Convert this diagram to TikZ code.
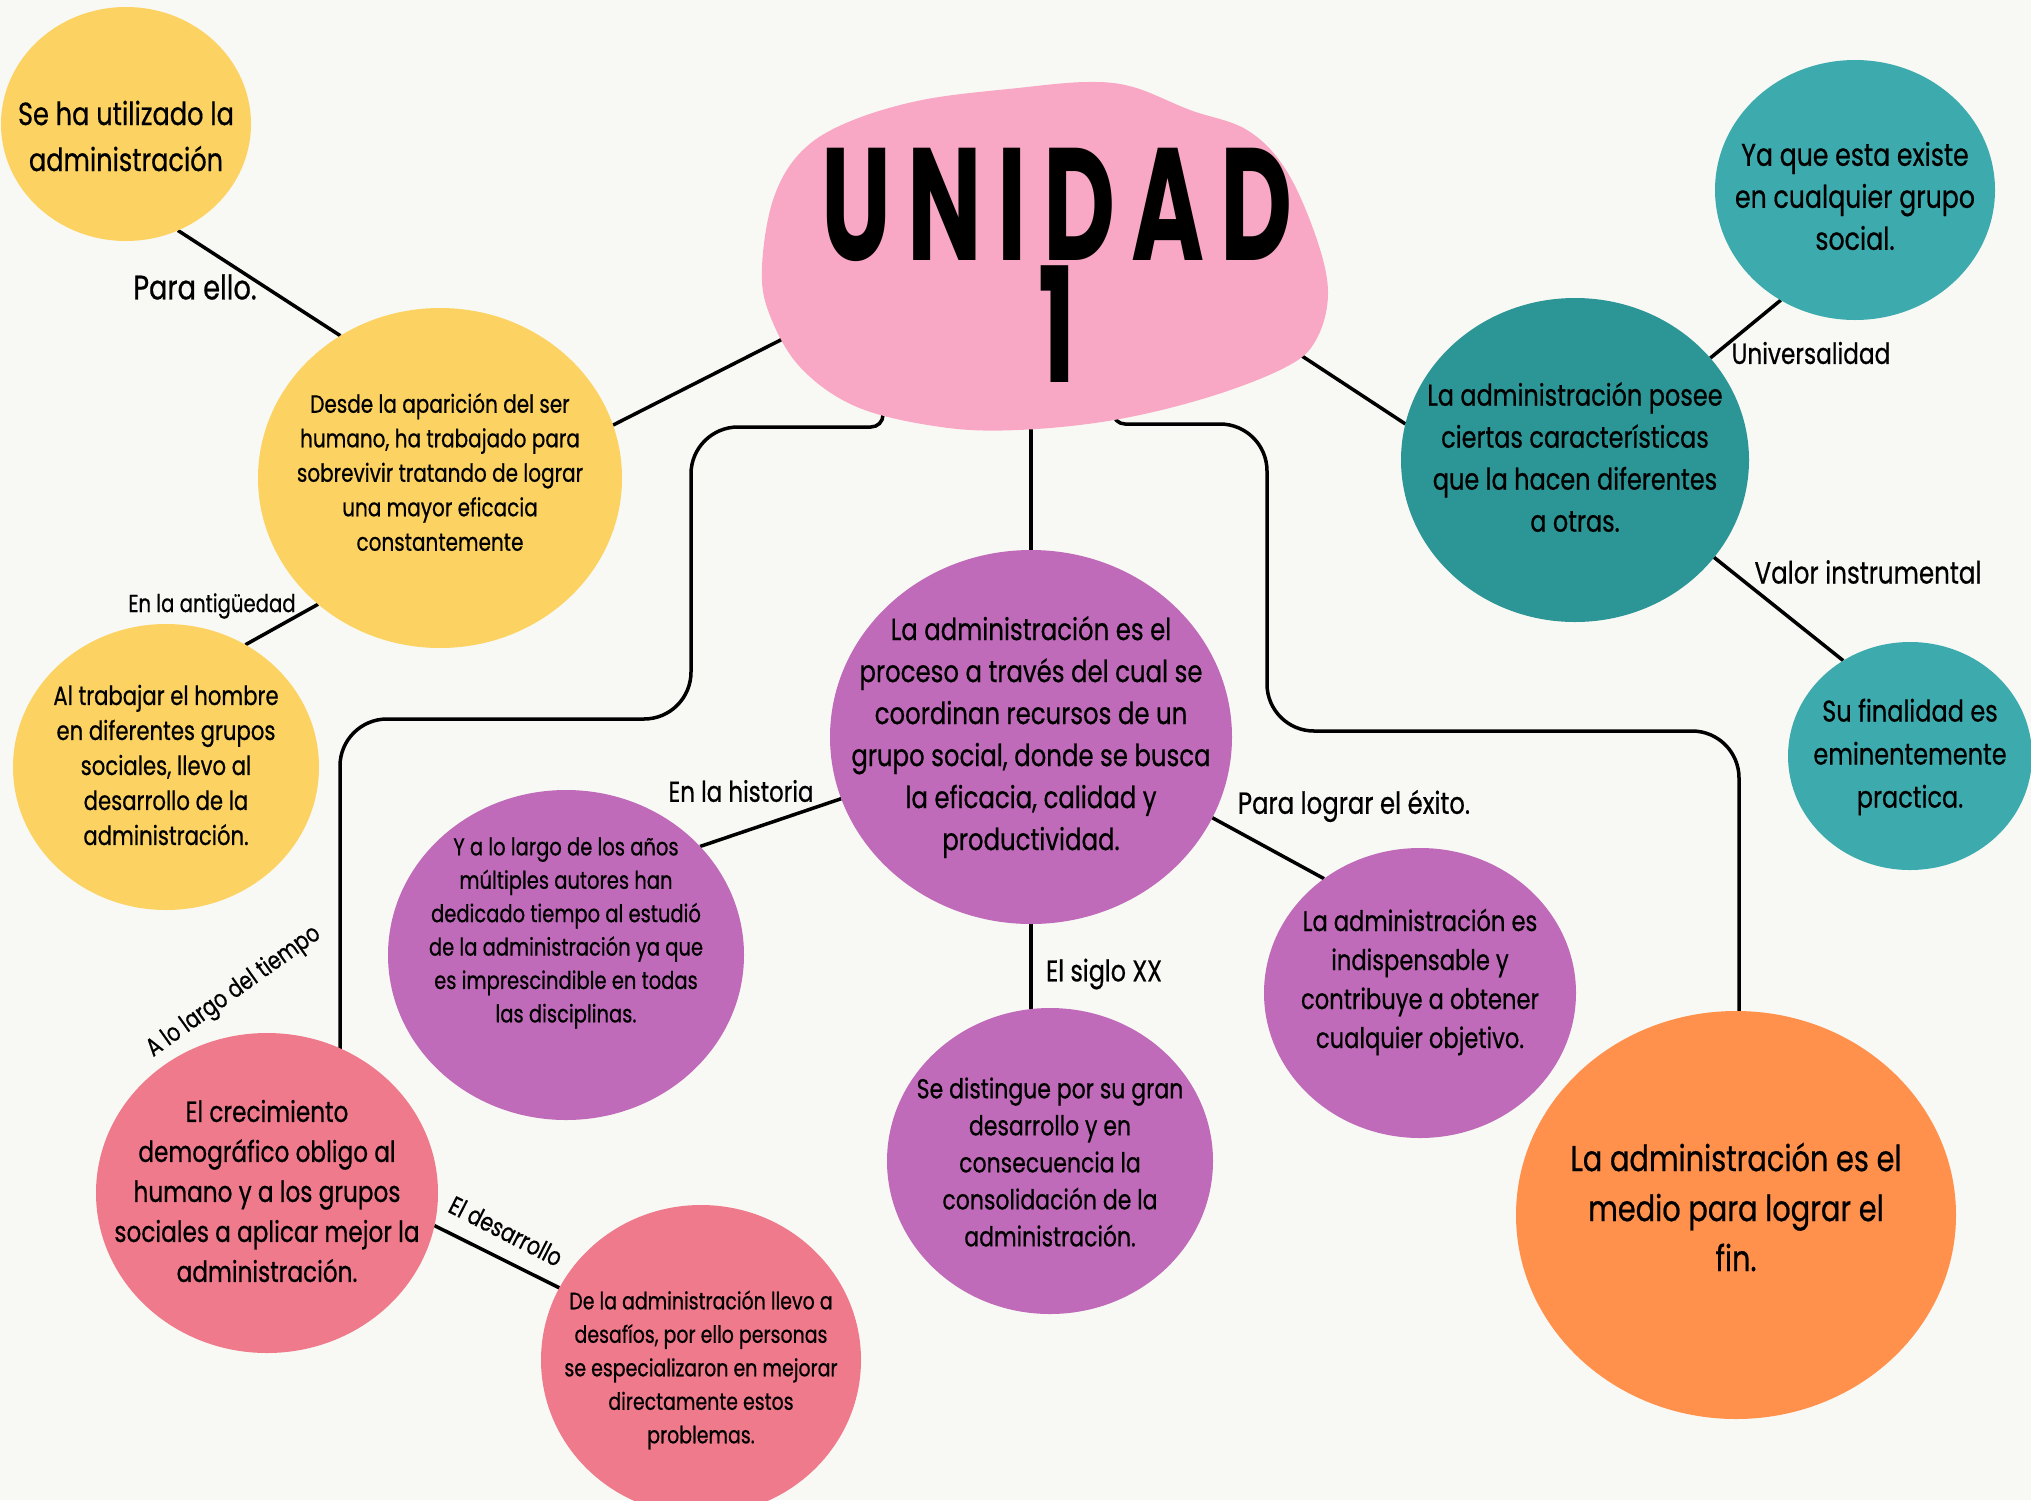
\documentclass[tikz,border=0pt]{standalone}
\usepackage{fontspec}
\setmainfont[FakeStretch=0.8, FakeBold=0.6]{Poppins}
\newfontfamily\titlefont[FakeStretch=0.62, LetterSpace=10]{Poppins}
\usetikzlibrary{shapes.geometric}
\definecolor{bgc}{RGB}{248,249,244}
\definecolor{yel}{RGB}{252,211,98}
\definecolor{blob}{RGB}{248,167,196}
\definecolor{pur}{RGB}{192,107,185}
\definecolor{tealD}{RGB}{44,149,149}
\definecolor{tealL}{RGB}{61,171,174}
\definecolor{orng}{RGB}{255,145,77}
\definecolor{salm}{RGB}{239,122,139}
\pgfdeclarelayer{bglayer}
\pgfdeclarelayer{lines}
\pgfsetlayers{bglayer,lines,main}
\newcommand{\fs}[2]{\fontsize{#1}{#2}\selectfont}
\begin{document}
\begin{tikzpicture}[x=1pt,y=-1pt,
  bub/.style={ellipse, inner sep=0pt, outer sep=0pt, fill=#1, draw=none},
  txt/.style={align=center, inner sep=0pt, text=black},
  lab/.style={inner sep=0pt, text=black},
  conn/.style={line width=3.5pt, draw=black},
  titl/.style={inner sep=0pt, text=black, font=\titlefont\bfseries\fs{160}{160}}]
\useasboundingbox (0,0) rectangle (2031,1500);
\begin{pgfonlayer}{bglayer}
\fill[bgc] (0,0) rectangle (2031,1500);
\end{pgfonlayer}

% central blob
\fill[blob] plot[smooth cycle, tension=0.6] coordinates {
 (762,267) (773,200) (800,153) (846,123) (922,100) (1018,88) (1087,82) (1133,87)
 (1190,110) (1247,130) (1286,170) (1316,237) (1328,293) (1316,340) (1286,367)
 (1209,397) (1114,420) (1018,430) (941,427) (857,407) (800,367) (769,313)};
\node[titl] (title) at (1057,205) {UNIDAD};
\node[titl] (one) at (1057,324) {1};
\coordinate (blobW) at (820,320);
\coordinate (blobE) at (1270,335);
\coordinate (blobS) at (1031,400);
\coordinate (blobL) at (883,400);
\coordinate (blobR) at (1113,400);

% bubbles
\node[bub=yel, minimum width=250pt, minimum height=234pt] (A) at (126,124) {};
\node[bub=yel, minimum width=364pt, minimum height=340pt] (B) at (440,478) {};
\node[bub=yel, minimum width=306pt, minimum height=286pt] (C) at (166,767) {};
\node[bub=pur, minimum width=402pt, minimum height=374pt] (E) at (1031,737) {};
\node[bub=tealD, minimum width=348pt, minimum height=324pt] (I) at (1575,460) {};
\node[bub=tealL, minimum width=280pt, minimum height=260pt] (J) at (1855,190) {};
\node[bub=tealL, minimum width=244pt, minimum height=228pt] (L) at (1910,756) {};
\node[bub=pur, minimum width=356pt, minimum height=330pt] (N) at (566,955) {};
\node[bub=pur, minimum width=326pt, minimum height=306pt] (P) at (1050,1161) {};
\node[bub=pur, minimum width=312pt, minimum height=290pt] (Q) at (1420,993) {};
\node[bub=orng, minimum width=440pt, minimum height=408pt] (R) at (1736,1215) {};
\node[bub=salm, minimum width=342pt, minimum height=320pt] (S) at (267,1193) {};
\node[bub=salm, minimum width=320pt, minimum height=310pt] (T) at (701,1360) {};

% texts
\node[txt, font=\fs{32}{46}] (At) at (126,136) {Se ha utilizado la\\administración};
\node[txt, font=\fs{25}{34.5}] (Bt) at (440,472) {Desde la aparición del ser\\humano, ha trabajado para\\sobrevivir tratando de lograr\\una mayor eficacia\\constantemente};
\node[txt, font=\fs{26.5}{35}] (Ct) at (166,765) {Al trabajar el hombre\\en diferentes grupos\\sociales, llevo al\\desarrollo de la\\administración.};
\node[txt, font=\fs{30.5}{42}] (Et) at (1031,737) {La administración es el\\proceso a través del cual se\\coordinan recursos de un\\grupo social, donde se busca\\la eficacia, calidad y\\productividad.};
\node[txt, font=\fs{30}{42}] (It) at (1575,457) {La administración posee\\ciertas características\\que la hacen diferentes\\a otras.};
\node[txt, font=\fs{31.5}{42}] (Jt) at (1855,196) {Ya que esta existe\\en cualquier grupo\\social.};
\node[txt, font=\fs{30}{43}] (Lt) at (1910,757) {Su finalidad es\\eminentemente\\practica.};
\node[txt, font=\fs{24.4}{33.4}] (Nt) at (566,933) {Y a lo largo de los años\\múltiples autores han\\dedicado tiempo al estudió\\de la administración ya que\\es imprescindible en todas\\las disciplinas.};
\node[txt, font=\fs{27.5}{37}] (Pt) at (1050,1162) {Se distingue por su gran\\desarrollo y en\\consecuencia la\\consolidación de la\\administración.};
\node[txt, font=\fs{28.3}{39}] (Qt) at (1420,982) {La administración es\\indispensable y\\contribuye a obtener\\cualquier objetivo.};
\node[txt, font=\fs{36}{50}] (Rt) at (1736,1207) {La administración es el\\medio para lograr el\\fin.};
\node[txt, font=\fs{29}{40}] (St) at (267,1191) {El crecimiento\\demográfico obligo al\\humano y a los grupos\\sociales a aplicar mejor la\\administración.};
\node[txt, font=\fs{23.7}{33.5}] (Tt) at (701,1370) {De la administración llevo a\\desafíos, por ello personas\\se especializaron en mejorar\\directamente estos\\problemas.};

% labels
\node[lab, font=\fs{34}{40}] (l1) at (195,287) {Para ello.};
\node[lab, font=\fs{24.6}{30}] (l2) at (212,606) {En la antigüedad};
\node[lab, font=\fs{29}{34}] (l3) at (1811,353) {Universalidad};
\node[lab, font=\fs{30.7}{36}] (l4) at (1868,572) {Valor instrumental};
\node[lab, font=\fs{28.7}{34}] (l5) at (741,791) {En la historia};
\node[lab, font=\fs{30.5}{36}] (l6) at (1354,806) {Para lograr el éxito.};
\node[lab, font=\fs{29.8}{36}] (l7) at (1104,974) {El siglo XX};
\node[lab, font=\fs{25}{30}, rotate=35.5] (l8) at (234,992) {A lo largo del tiempo};
\node[lab, font=\fs{25.5}{30}, rotate=-27] (l9) at (506,1231) {El desarrollo};

% connectors
\begin{pgfonlayer}{lines}
\draw[conn] (A.-64.3) -- (B.125.3);
\draw[conn] (B.17.7) -- (blobW);
\draw[conn] (B.-134.5) -- (C.57.1);
\draw[conn] (blobE) -- (I.168.2);
\draw[conn] (I.37.5) -- (J.-124);
\draw[conn] (I.-35.5) -- (L.125);
\draw[conn] (blobS) -- (blobS |- E.center);
\draw[conn] (E.198.3) -- (N.39.2);
\draw[conn] (E.270) -- (E.270 |- P.center);
\draw[conn] (E.-24.7) -- (Q.130.5);
\draw[conn] (S.-11.1) -- (T.153.7);
\draw[conn] (blobL) [rounded corners=12pt] -- (883,427) [rounded corners=47pt] -- (691,427) -- (691,719) -- (340,719) -- (340,719 |- S.center);
\draw[conn] (blobR) [rounded corners=12pt] -- (1113,424) [rounded corners=47pt] -- (1267,424) -- (1267,731) -- (1739,731) -- (1739,731 |- R.center);
\end{pgfonlayer}
\end{tikzpicture}
\end{document}
